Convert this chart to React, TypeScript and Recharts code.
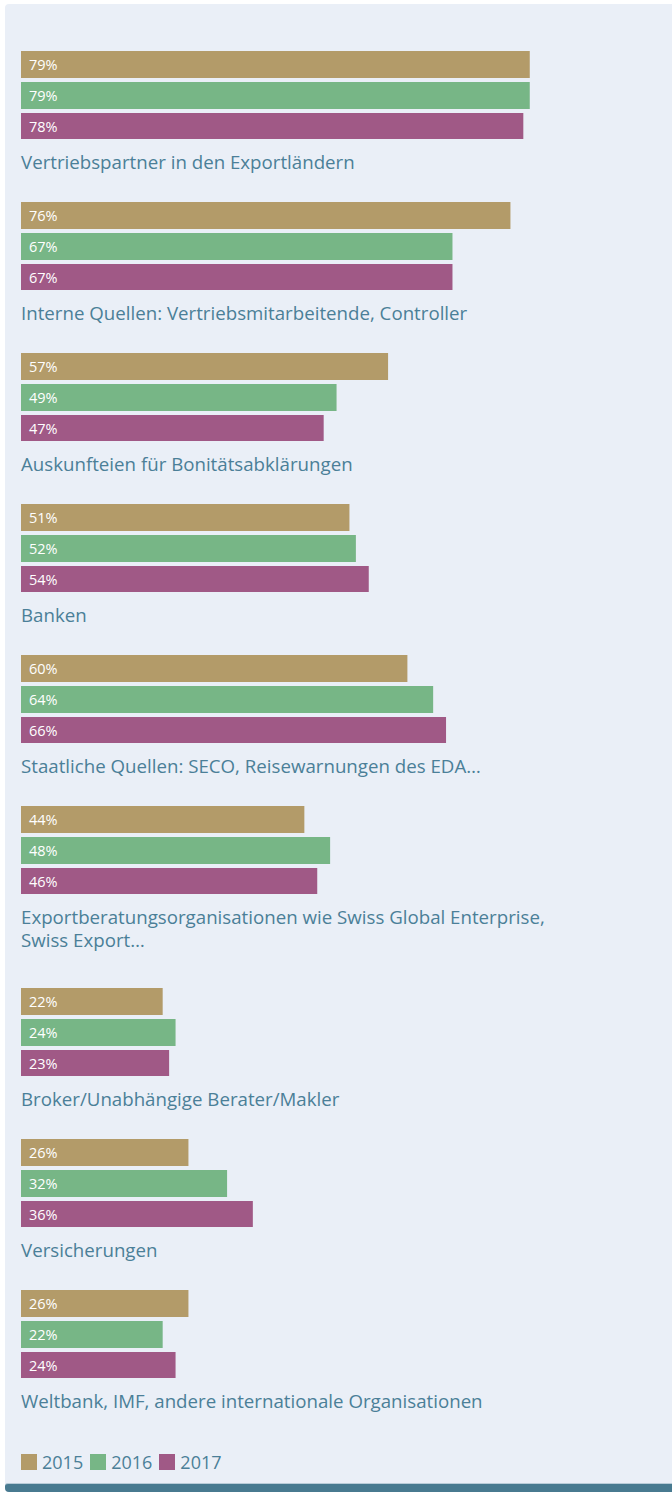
import React from 'react';
import { BarChart, Bar, XAxis, YAxis, LabelList } from 'recharts';

const categories = [
  'Vertriebspartner in den Exportländern',
  'Interne Quellen: Vertriebsmitarbeitende, Controller',
  'Auskunfteien für Bonitätsabklärungen',
  'Banken',
  'Staatliche Quellen: SECO, Reisewarnungen des EDA…',
  'Exportberatungsorganisationen wie Swiss Global Enterprise,\nSwiss Export…',
  'Broker/Unabhängige Berater/Makler',
  'Versicherungen',
  'Weltbank, IMF, andere internationale Organisationen',
];
const values2015 = [79, 76, 57, 51, 60, 44, 22, 26, 26];
const values2016 = [79, 67, 49, 52, 64, 48, 24, 32, 22];
const values2017 = [78, 67, 47, 54, 66, 46, 23, 36, 24];
const years = ['2015', '2016', '2017'];
const colors = ['#b39b69', '#77b686', '#a05986'];

const FONT = '"Open Sans", sans-serif';
const TEXT = '#4b7f98';

const fmt = (v: any) => `${v}%`;

function Group({ idx }: { idx: number }) {
  const data = [
    { name: categories[idx], y2015: values2015[idx], y2016: values2016[idx], y2017: values2017[idx] },
  ];
  const lines = categories[idx].split('\n').length;
  const keys = ['y2015', 'y2016', 'y2017'];
  return (
    <div style={{ height: 151 + 31 * (lines - 1) }}>
      <BarChart
        width={644}
        height={88}
        data={data}
        layout="vertical"
        margin={{ top: 0, right: 0, bottom: 0, left: 0 }}
        barCategoryGap={0}
        barGap={4}
      >
        <XAxis type="number" domain={[0, 100]} hide />
        <YAxis type="category" dataKey="name" hide />
        {keys.map((k, i) => (
          <Bar key={k} dataKey={k} fill={colors[i]} isAnimationActive={false}>
            <LabelList
              dataKey={k}
              position="insideLeft"
              offset={8}
              formatter={fmt}
              fill="#ffffff"
              style={{ fontFamily: FONT, fontSize: 14.5 }}
            />
          </Bar>
        ))}
      </BarChart>
      <div
        style={{
          marginTop: 11,
          fontFamily: FONT,
          fontSize: 18.7,
          lineHeight: '23px',
          color: TEXT,
          whiteSpace: 'pre-line',
        }}
      >
        {categories[idx]}
      </div>
    </div>
  );
}

export default function App() {
  return (
    <div style={{ position: 'absolute', left: 0, top: 0, width: 672, height: 1492, background: '#ffffff', overflow: 'hidden' }}>
      <div
        style={{
          position: 'absolute',
          left: 5,
          top: 4,
          width: 680,
          height: 1488,
          background: '#eaeff7',
          borderRadius: 4,
          overflow: 'hidden',
        }}
      >
        <div style={{ position: 'absolute', left: 16, top: 47 }}>
          {categories.map((_, i) => (
            <Group key={i} idx={i} />
          ))}
          <div style={{ display: 'flex', alignItems: 'center', marginTop: 13, height: 16 }}>
            {years.map((y, i) => (
              <div key={y} style={{ display: 'flex', alignItems: 'center', marginRight: 7 }}>
                <div style={{ width: 16, height: 16, background: colors[i], marginRight: 5 }} />
                <span style={{ fontFamily: FONT, fontSize: 18, color: TEXT, lineHeight: '16px' }}>{y}</span>
              </div>
            ))}
          </div>
        </div>
        <div
          style={{
            position: 'absolute',
            left: 0,
            bottom: 0,
            width: '100%',
            height: 8,
            background: '#487a90',
            borderTop: '1px solid #b9ccd8',
            borderTopLeftRadius: 3,
          }}
        />
      </div>
    </div>
  );
}
